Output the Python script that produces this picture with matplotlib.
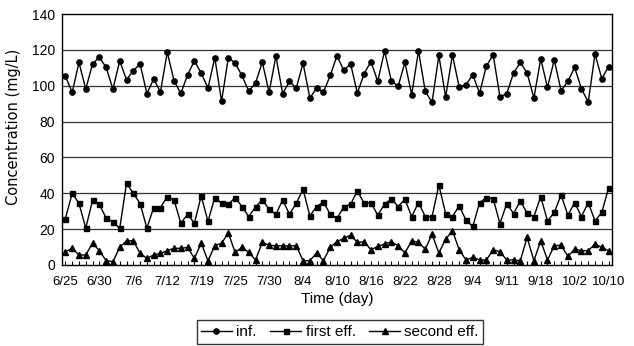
import matplotlib
matplotlib.use("Agg")
import matplotlib.pyplot as plt
from matplotlib.ticker import MultipleLocator

plt.rcParams["font.family"] = ["Liberation Sans Narrow", "DejaVu Sans Condensed", "Liberation Sans", "DejaVu Sans"]

# daily labels shown every 5 sampling days
TICK_LABELS = ["6/25", "6/30", "7/6", "7/12", "7/19", "7/25", "7/30", "8/4", "8/10",
               "8/16", "8/22", "8/28", "9/4", "9/11", "9/18", "10/2", "10/10"]

INF = [105.2, 96.3, 113.0, 98.1, 112.2, 115.9, 110.2, 98.1, 113.9, 103.3,
       108.3, 112.2, 95.6, 103.7, 96.5, 118.7, 102.8, 95.7, 106.1, 113.9,
       107.0, 98.7, 115.7, 91.3, 115.7, 112.6, 105.7, 96.9, 101.5, 113.1,
       96.3, 116.5, 95.6, 102.4, 98.7, 112.6, 93.1, 98.7, 96.3, 105.7,
       116.7, 108.5, 112.2, 95.9, 106.7, 113.5, 102.4, 119.4, 102.8, 99.6,
       113.0, 95.0, 119.4, 96.9, 90.7, 116.9, 93.7, 117.2, 99.1, 100.6,
       106.1, 95.8, 111.1, 117.2, 93.7, 95.6, 107.0, 113.0, 107.0, 93.1,
       115.0, 99.1, 114.4, 97.2, 102.4, 110.2, 98.3, 90.9, 117.6, 103.9,
       110.7]

FIRST_EFF = [25.9, 40.0, 34.4, 20.6, 36.1, 33.9, 26.1, 24.1, 20.4, 45.6,
             40.0, 34.3, 20.6, 32.0, 32.0, 38.1, 36.3, 23.3, 28.3, 23.3,
             38.5, 24.3, 37.6, 34.4, 33.9, 37.6, 32.6, 27.0, 32.4, 36.3,
             31.1, 28.3, 36.3, 28.3, 34.4, 42.2, 27.4, 32.6, 35.2, 28.3,
             26.0, 32.4, 33.9, 41.3, 34.4, 34.8, 27.8, 33.9, 37.0, 32.6,
             36.7, 27.0, 34.8, 27.0, 27.0, 44.6, 28.7, 27.0, 33.0, 25.0,
             21.5, 34.8, 37.6, 37.0, 23.1, 34.3, 28.7, 35.7, 28.9, 27.0,
             38.1, 24.6, 29.3, 39.1, 27.8, 34.8, 27.0, 34.8, 24.6, 29.3,
             43.1]

SECOND_EFF = [7.4, 9.3, 5.6, 5.6, 12.2, 8.0, 2.4, 1.9, 9.8, 13.5,
              13.5, 6.5, 3.7, 5.6, 6.5, 8.0, 9.3, 9.3, 9.8, 3.7,
              12.2, 2.4, 10.7, 12.2, 17.8, 7.0, 9.8, 7.0, 2.8, 12.6,
              11.1, 10.7, 10.7, 10.7, 10.7, 2.4, 2.4, 6.7, 2.4, 9.8,
              13.1, 14.8, 16.7, 12.6, 13.0, 8.5, 10.4, 11.7, 13.0, 10.7,
              6.7, 13.5, 12.6, 8.9, 17.2, 6.7, 14.4, 19.1, 8.5, 2.8,
              4.3, 2.8, 2.8, 8.5, 7.4, 2.8, 2.8, 2.4, 15.4, 2.4,
              13.5, 2.8, 10.7, 11.1, 4.8, 8.9, 8.0, 8.0, 11.7, 9.8,
              8.0]

x = list(range(len(INF)))

fig = plt.figure(figsize=(6.34, 3.46), dpi=100)
ax = fig.add_axes([62 / 634, 1 - 265 / 346, 550 / 634, 251 / 346])

for yv in range(20, 140, 20):
    ax.axhline(yv, color="#333333", linewidth=0.9, zorder=1)

ax.plot(x, INF, "-", color="black", linewidth=1.0, marker="o",
        markersize=3.8, label="inf.", zorder=3)
ax.plot(x, FIRST_EFF, "-", color="black", linewidth=1.0, marker="s",
        markersize=3.6, label="first eff.", zorder=3)
ax.plot(x, SECOND_EFF, "-", color="black", linewidth=1.0, marker="^",
        markersize=4.4, label="second eff.", zorder=3)

ax.set_xlim(-0.5, len(x) - 0.5)
ax.set_ylim(0, 140)
ax.yaxis.set_major_locator(MultipleLocator(20))
ax.tick_params(axis="y", length=0, pad=5, labelsize=10)

ax.set_xticks(range(0, len(x), 5))
ax.set_xticklabels(TICK_LABELS)
ax.set_xticks(x, minor=True)
ax.tick_params(axis="x", which="both", direction="in", length=3, width=0.8,
               pad=8, labelsize=9.5)

for sp in ax.spines.values():
    sp.set_linewidth(1.0)
    sp.set_color("black")

ax.set_xlabel("Time (day)", fontsize=11, labelpad=3)
ax.set_ylabel("Concentration (mg/L)", fontsize=10.5,
              family=["DejaVu Sans"])
ax.yaxis.set_label_coords(-0.074, 0.55)

leg = fig.legend(loc="center", bbox_to_anchor=(340 / 634, 1 - 332 / 346),
                 ncol=3, fontsize=11, frameon=True, fancybox=False,
                 handlelength=2.0, handletextpad=0.3, columnspacing=0.9,
                 borderpad=0.3, edgecolor="black")
leg.get_frame().set_linewidth(1.0)

fig.savefig("out.png", dpi=100)
